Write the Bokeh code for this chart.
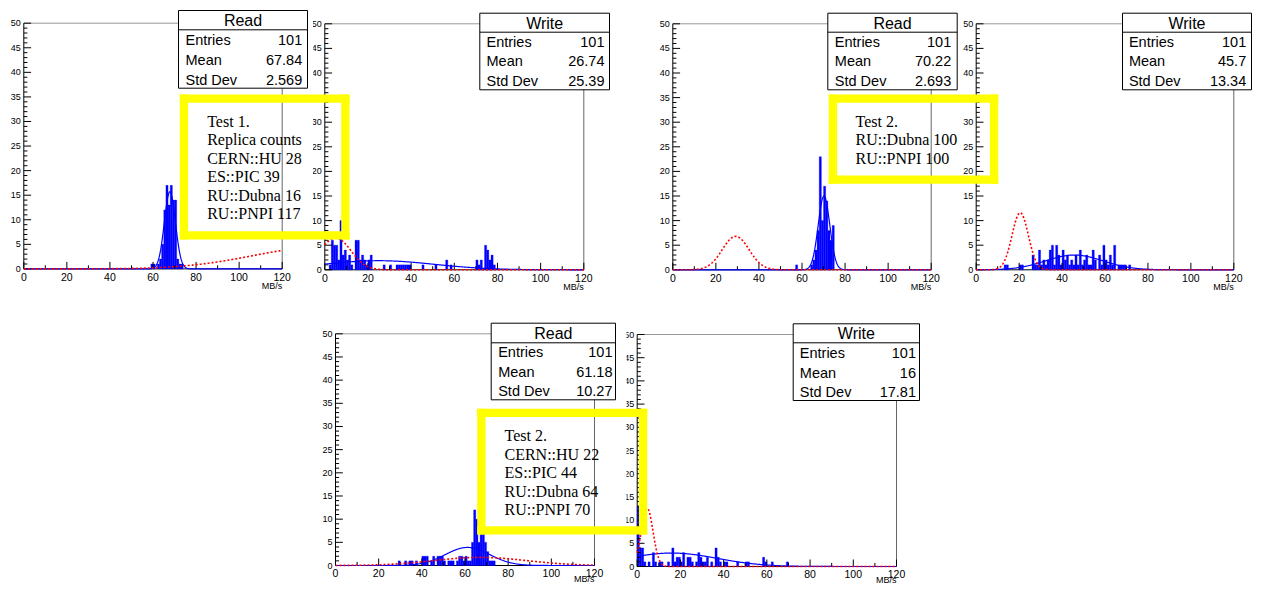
import numpy as np
from bokeh.plotting import figure
from bokeh.models import Range1d
from bokeh.embed import file_html
from bokeh.resources import INLINE
from bokeh.core.properties import value

SANS = value("Liberation Sans")
SERIF = value("Liberation Serif")

# ---------------- data ----------------
x_tick_values = [0, 20, 40, 60, 80, 100, 120]
x_minor_values = [10, 30, 50, 70, 90, 110]
y_tick_values = [0, 5, 10, 15, 20, 25, 30, 35, 40, 45, 50]
x_title = "MB/s"

hist_titles = ["Read", "Write", "Read", "Write", "Read", "Write"]
hist_entries = ["101", "101", "101", "101", "101", "101"]
hist_means = ["67.84", "26.74", "70.22", "45.7", "61.18", "16"]
hist_stddevs = ["2.569", "25.39", "2.693", "13.34", "10.27", "17.81"]

# bin lower edges (1 MB/s bins) and counts
A_bins = [59, 60, 62, 63, 64, 65, 66, 67, 68, 69, 70, 71, 72, 73]
A_counts = [1, 1, 1, 2, 5, 12, 17, 13, 17, 14, 14, 2, 1, 1]

B_bins = [2, 3, 4, 5, 6, 7, 8, 9, 10, 11, 12, 14, 15, 16, 17, 18, 19, 20, 21, 27, 30,
          33, 34, 35, 36, 37, 38, 39, 45, 51, 56, 58, 70, 71, 72, 74, 75, 76, 77, 78]
B_counts = [1, 6, 5, 5, 2, 10, 3, 4, 2, 3, 1, 6, 6, 2, 3, 2, 1, 2, 3, 1, 1,
            1, 1, 1, 1, 1, 1, 1, 1, 1, 2, 1, 2, 1, 2, 5, 4, 2, 3, 1]

C_bins = [57, 64, 65, 66, 67, 68, 69, 70, 71, 72, 73, 74]
C_counts = [1, 1, 2, 4, 8, 23, 10, 17, 14, 8, 6, 9]

D_bins = [13, 14, 20, 21, 26, 27, 28, 29, 30, 31, 32, 33, 34, 35, 36, 37, 38, 39, 40, 41,
          42, 43, 44, 45, 46, 47, 48, 49, 50, 51, 52, 53, 54, 55, 57, 58, 59, 60, 61, 62,
          63, 64, 66, 67, 68, 69, 71]
D_counts = [1, 1, 1, 1, 3, 1, 1, 4, 1, 2, 1, 2, 4, 5, 1, 5, 3, 1, 4, 2,
            3, 1, 2, 1, 3, 1, 4, 1, 2, 3, 1, 1, 4, 2, 3, 1, 5, 2, 1, 3,
            1, 5, 1, 1, 1, 1, 1]

E_bins = [29, 32, 34, 35, 37, 40, 41, 42, 44, 45, 47, 48, 49, 50, 52, 53, 54, 56, 57, 58, 59,
          60, 61, 62, 63, 64, 65, 66, 67, 68, 69, 70, 71, 72, 73]
E_counts = [1, 1, 1, 1, 1, 2, 2, 2, 1, 2, 2, 2, 2, 1, 1, 1, 1, 1, 2, 2, 1,
            2, 1, 1, 5, 12, 10, 5, 10, 9, 5, 3, 1, 1, 1]

F_bins = [0, 1, 2, 3, 5, 7, 8, 10, 11, 14, 16, 17, 18, 19, 20, 21, 23, 24, 25, 27, 28, 29,
          30, 31, 32, 34, 36, 37, 38, 40, 41, 46, 50, 51, 58, 59, 62, 69]
F_counts = [13, 4, 4, 1, 1, 3, 1, 1, 1, 1, 4, 1, 2, 2, 1, 3, 2, 2, 1, 1, 3, 2,
            1, 1, 2, 1, 4, 2, 1, 1, 1, 1, 1, 1, 2, 1, 1, 1]

# Gaussian fit parameters: (constant, mean, sigma)
blue_fit_const = [15.7, 1.85, 15.0, 3.0, 3.9, 2.9]
blue_fit_mean = [67.84, 25.0, 70.22, 45.7, 61.18, 16.0]
blue_fit_sigma = [2.569, 25.6, 2.693, 13.34, 10.27, 21.0]
red_fit_const = [4.4, 6.5, 6.8, 11.6, 1.75, 12.6]
red_fit_mean = [138.0, 5.0, 29.2, 20.5, 67.0, 4.6]
red_fit_sigma = [32.0, 7.0, 6.2, 3.8, 21.5, 2.7]

notes_1 = ["Test 1.", "Replica counts", "CERN::HU 28", "ES::PIC 39", "RU::Dubna 16", "RU::PNPI 117"]
notes_2 = ["Test 2.", "RU::Dubna 100", "RU::PNPI 100"]
notes_3 = ["Test 2.", "CERN::HU 22", "ES::PIC 44", "RU::Dubna 64", "RU::PNPI 70"]

# ---------------- layout (pixel positions on the page) ----------------
PX0, PX1, PY0, PY1 = 0, 1252, 0, 584
W, H = PX1 - PX0, PY1 - PY0
XMAX, YMAX = 120.0, 50.0

frames = {  # left, right, top, bottom
    "A": (23.3, 281.7, 22.7, 268.4),
    "B": (324.3, 583.3, 23.3, 269.3),
    "C": (672.3, 930.7, 23.3, 269.3),
    "D": (975.7, 1233.3, 23.3, 269.3),
    "E": (335.0, 594.0, 333.3, 565.0),
    "F": (636.7, 896.0, 334.0, 566.0),
}
stat_boxes = {  # left, right, top, bottom, divider, label_x, value_x, rows y
    "A": (178.0, 307.0, 10.0, 87.7, 29.3, 185.0, 301.7, (39.3, 59.0, 79.0)),
    "B": (479.3, 609.0, 12.7, 89.3, 31.7, 486.0, 604.0, (41.0, 60.7, 80.0)),
    "C": (827.3, 956.7, 12.7, 89.3, 31.7, 834.3, 950.7, (41.0, 60.7, 80.0)),
    "D": (1122.0, 1251.0, 12.7, 89.3, 31.7, 1128.4, 1245.7, (41.0, 60.7, 80.0)),
    "E": (490.7, 615.0, 322.7, 399.3, 342.3, 497.7, 612.0, (351.7, 371.0, 390.0)),
    "F": (792.7, 919.0, 323.3, 400.0, 342.3, 799.3, 915.5, (352.3, 372.0, 391.7)),
}
yellow_boxes = [  # outer left, right, top, bottom ; text x, first line y
    ((179.3, 349.0, 94.0, 239.0), 206.7, 120.7, notes_1),
    ((828.3, 997.7, 94.0, 183.3), 855.0, 120.7, notes_2),
    ((476.7, 646.7, 408.3, 534.0), 504.0, 435.0, notes_3),
]
YB_T = 8.3
LINE_STEP = 18.5
title_offset = {"A": 17.5, "B": 17.5, "C": 17.5, "D": 17.5, "E": 13.5, "F": 13.5}
label_offset = {"A": 8, "B": 8, "C": 8, "D": 8, "E": 7, "F": 7}

p = figure(width=W, height=H, x_range=Range1d(PX0, PX1), y_range=Range1d(PY1, PY0),
           x_axis_location=None, y_axis_location=None, output_backend="svg",
           toolbar_location=None, min_border=0, outline_line_color=None,
           background_fill_color="white", border_fill_color="white")
p.grid.visible = False

scales = {}
xr, yr = {}, {}
for name, (L, R, T, B) in frames.items():
    kx = XMAX / (R - L)
    ky = YMAX / (B - T)
    xs = -(L - PX0) * kx
    ys = -(PY1 - B) * ky
    xr[name] = Range1d(xs, xs + W * kx)
    yr[name] = Range1d(ys, ys + H * ky)
    scales[name] = (kx, ky)
p.extra_x_ranges = xr
p.extra_y_ranges = yr

hist_data = {"A": (A_bins, A_counts), "B": (B_bins, B_counts), "C": (C_bins, C_counts),
             "D": (D_bins, D_counts), "E": (E_bins, E_counts), "F": (F_bins, F_counts)}
order = ["A", "B", "C", "D", "E", "F"]


def gaus(c, m, s, x):
    return c * np.exp(-0.5 * ((x - m) / s) ** 2)


def draw_panel(name):
    i = order.index(name)
    kx, ky = scales[name]
    kw = dict(x_range_name=name, y_range_name=name)
    # frame
    p.segment(x0=[0, 0], y0=[YMAX, 0], x1=[XMAX, XMAX], y1=[YMAX, 0],
              line_color=["#999999", "#000000"], line_width=1, **kw)
    p.segment(x0=[XMAX, 0], y0=[0, 0], x1=[XMAX, 0], y1=[YMAX, YMAX],
              line_color=["#666666", "#000000"], line_width=1, **kw)
    # histogram
    bins, counts = hist_data[name]
    lefts = [b for b, c in zip(bins, counts) if c > 0]
    tops = [c for c in counts if c > 0]
    p.quad(left=lefts, right=[b + 1 for b in lefts], bottom=0, top=tops,
           fill_color="#0000ff", line_color="#0000ff", line_width=0.3, **kw)
    # ticks
    ymin = [v for v in range(0, 51) if v % 5 != 0]
    p.segment(x0=0, y0=y_tick_values, x1=7.3 * kx, y1=y_tick_values, line_color="black", line_width=1, **kw)
    p.segment(x0=0, y0=ymin, x1=3.6 * kx, y1=ymin, line_color="black", line_width=1, **kw)
    p.segment(x0=x_tick_values, y0=0, x1=x_tick_values, y1=7.0 * ky, line_color="black", line_width=1, **kw)
    p.segment(x0=x_minor_values, y0=0, x1=x_minor_values, y1=3.6 * ky, line_color="black", line_width=1, **kw)
    # fits
    xx = np.linspace(0, XMAX, 601)
    p.line(xx, gaus(blue_fit_const[i], blue_fit_mean[i], blue_fit_sigma[i], xx),
           line_color="#0000ff", line_width=1.2, **kw)
    p.line(xx, gaus(red_fit_const[i], red_fit_mean[i], red_fit_sigma[i], xx),
           line_color="#ff0000", line_width=1.6, line_dash="2 2", **kw)
    # labels
    p.text(x=[0] * len(y_tick_values), y=y_tick_values, text=[str(v) for v in y_tick_values],
           x_offset=-3, text_align="right", text_baseline="middle", text_font=SANS,
           text_font_size="9px", text_color="black", **kw)
    p.text(x=x_tick_values, y=[0] * len(x_tick_values), text=[str(v) for v in x_tick_values],
           y_offset=label_offset[name], text_align="center", text_baseline="middle", text_font=SANS,
           text_font_size="10.5px", text_color="black", **kw)
    p.text(x=[XMAX], y=[0], text=[x_title], y_offset=title_offset[name], text_align="right",
           text_baseline="middle", text_font=SANS, text_font_size="9px", text_color="black", **kw)


def draw_stats(name):
    i = order.index(name)
    L, R, T, B, D, lx, vx, rows = stat_boxes[name]
    p.quad(left=[L], right=[R], top=[T], bottom=[B], fill_color="white", line_color="black", line_width=1)
    p.segment(x0=[L], y0=[D], x1=[R], y1=[D], line_color="black", line_width=1)
    p.text(x=[(L + R) / 2], y=[(T + D) / 2 + 0.5], text=[hist_titles[i]], text_align="center",
           text_baseline="middle", text_font=SANS, text_font_size="16px", text_color="black")
    p.text(x=[lx] * 3, y=list(rows), text=["Entries", "Mean", "Std Dev"], text_align="left",
           text_baseline="middle", text_font=SANS, text_font_size="14.5px", text_color="black")
    p.text(x=[vx] * 3, y=list(rows), text=[hist_entries[i], hist_means[i], hist_stddevs[i]],
           text_align="right", text_baseline="middle", text_font=SANS, text_font_size="14.5px",
           text_color="black")


# right-hand pads first, then covers, then left pads (left pads overlap)
draw_panel("B")
p.quad(left=[290], right=[312.5], top=[14], bottom=[300], fill_color="white", line_color=None)
draw_panel("A")
draw_panel("D")
draw_panel("C")
draw_panel("F")
p.quad(left=[600], right=[626], top=[325], bottom=[584], fill_color="white", line_color=None)
draw_panel("E")
for n in order:
    draw_stats(n)

for (L, R, T, B), tx, ty, lines in yellow_boxes:
    p.quad(left=[L, L, L, R - YB_T], right=[R, R, L + YB_T, R],
           top=[T, B - YB_T, T, T], bottom=[T + YB_T, B, B, B],
           fill_color="#ffff00", line_color=None)
    p.text(x=[tx] * len(lines), y=[ty + k * LINE_STEP for k in range(len(lines))], text=lines,
           text_align="left", text_baseline="middle", text_font=SERIF, text_font_size="16px",
           text_color="black")

open("out.html", "w").write(file_html(p, INLINE))
